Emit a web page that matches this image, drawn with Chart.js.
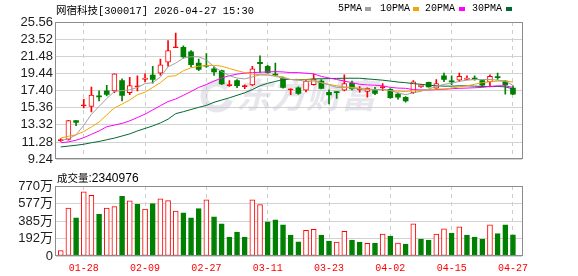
<!DOCTYPE html>
<html lang="zh">
<head>
<meta charset="UTF-8">
<title>网宿科技 K线</title>
<script src="https://cdn.jsdelivr.net/npm/chart.js"></script>
<style>
  body { margin: 0; background: #fff; }
  #wrap { position: relative; width: 578px; height: 276px; overflow: hidden; }
  canvas { position: absolute; left: 0; }
  .txt { position: absolute; white-space: nowrap; color: #000; z-index: 2; }
  .cjk { font-family: "Noto Sans CJK SC", sans-serif; }
  .mono { font-family: "Liberation Mono", monospace; }
  .sw { position: absolute; width: 6px; height: 4px; top: 7px; z-index: 2; }
</style>
</head>
<body>
<div id="wrap">
  <div class="txt" style="left:56px;top:0;line-height:17px;"><span class="cjk" style="font-size:10.5px">网宿科技</span><span class="mono" style="font-size:10.4px">[300017] 2026-04-27 15:30</span></div>
  <div class="txt mono" style="left:338px;top:0;line-height:17px;font-size:10px">5PMA</div>
  <div class="sw" style="left:365px;background:#a0a0a0"></div>
  <div class="txt mono" style="left:380px;top:0;line-height:17px;font-size:10px">10PMA</div>
  <div class="sw" style="left:413px;background:#f2a600"></div>
  <div class="txt mono" style="left:425px;top:0;line-height:17px;font-size:10px">20PMA</div>
  <div class="sw" style="left:459px;background:#ff00ff"></div>
  <div class="txt mono" style="left:472px;top:0;line-height:17px;font-size:10px">30PMA</div>
  <div class="sw" style="left:506px;background:#006a32"></div>
  <div class="txt" style="left:57px;top:170px;line-height:14px;"><span class="cjk" style="font-size:10.5px">成交量</span><span style="font-family:'Liberation Sans';font-size:12px">:2340976</span></div>
  <canvas id="kline" width="578" height="170" style="top:0"></canvas>
  <canvas id="vol" width="578" height="106" style="top:170px"></canvas>
</div>

<script>
// 日K数据（60个交易日）
const open  = [11.45,11.58,13.83,15.60,15.52,16.72,17.37,17.37,18.60,17.14,
               17.85,18.72,19.24,19.47,20.78,22.50,22.55,22.02,20.67,20.37,
               19.99,19.77,18.00,18.60,17.88,18.08,20.75,20.30,19.36,18.90,
               17.50,17.74,17.44,18.12,18.53,17.18,17.20,17.44,18.27,17.52,
               17.29,17.40,17.76,17.55,16.99,16.61,17.14,17.85,18.38,17.70,
               19.17,18.57,18.64,18.72,18.83,18.60,18.42,19.02,18.53,17.70];
const high  = [11.70,13.85,13.83,16.35,17.82,17.37,18.04,19.40,18.79,18.98,
               19.17,19.39,20.29,21.16,23.34,24.24,22.74,22.17,21.16,21.80,
               20.22,19.85,18.60,18.72,18.08,20.30,21.54,20.41,20.67,19.02,
               17.60,17.85,18.68,19.36,18.72,17.48,17.29,19.28,18.53,17.89,
               17.74,17.78,18.23,17.63,17.10,16.69,18.60,18.12,18.42,18.72,
               19.47,19.17,19.47,19.17,19.17,18.68,19.28,19.47,18.60,17.97];
const low   = [11.35,11.50,13.23,15.34,14.85,16.16,16.76,17.14,16.16,16.91,
               17.37,18.42,18.27,19.24,20.30,22.50,21.27,20.22,19.77,20.15,
               19.21,18.12,17.89,17.74,17.63,18.00,19.54,19.47,19.17,17.70,
               16.91,16.95,17.25,18.04,17.59,15.82,16.46,17.37,17.48,17.21,
               16.61,16.91,17.40,16.46,16.39,16.01,17.06,17.78,17.82,17.59,
               18.45,18.12,18.53,18.70,18.64,17.85,17.85,18.72,16.99,16.91];
const close = [11.52,13.83,13.61,15.66,16.88,16.65,16.95,19.39,16.84,18.00,
               17.95,18.90,18.72,20.48,22.17,22.58,21.42,20.48,19.92,20.30,
               19.62,18.19,18.06,18.00,17.93,19.99,20.60,19.54,19.24,17.78,
               17.56,17.06,18.49,18.76,17.67,16.88,17.16,18.23,17.59,17.56,
               17.67,17.06,17.82,16.55,16.63,16.16,18.45,18.08,17.85,18.23,
               18.72,18.42,19.09,18.90,18.76,18.04,19.09,18.94,18.08,16.99];
// 成交量（万手）
const vol   = [59.5,528,420,707,666,458,528,543,655,606,
               569,517,577,629,610,495,476,420,521,617,
               432,353,208,264,208,617,565,376,398,342,
               231,156,283,294,231,164,153,272,175,153,
               138,141,242,219,141,130,353,186,175,242,
               298,253,320,231,208,186,342,246,342,234.1];
// 均线
const ma5  = [11.50,11.65,12.14,13.27,14.58,15.52,16.46,17.29,17.40,17.48,
              17.78,18.23,18.34,19.02,20.22,20.67,21.27,21.42,21.42,21.05,
              20.22,19.66,19.17,18.90,18.79,19.02,19.28,19.28,19.09,18.87,
              18.72,18.64,18.49,18.53,18.34,18.08,17.78,17.78,17.70,17.59,
              17.52,17.52,17.55,17.40,17.14,16.91,17.14,17.33,17.59,17.89,
              18.15,18.27,18.49,18.64,18.72,18.72,18.72,18.64,18.53,18.04];
const ma10 = [11.77,11.96,12.14,12.52,13.08,13.65,14.51,15.34,15.79,16.28,
              16.91,17.21,17.78,18.34,19.09,19.17,19.77,20.11,20.30,20.37,
              20.41,20.30,20.03,19.77,19.54,19.36,19.28,19.24,19.17,19.02,
              18.72,18.68,18.68,18.64,18.34,18.15,17.97,17.85,17.78,17.67,
              17.59,17.52,17.52,17.40,17.33,17.29,17.37,17.40,17.48,17.59,
              17.59,17.70,17.85,17.97,18.15,18.34,18.45,18.53,18.53,18.42];
const ma20 = [11.20,11.30,11.50,11.80,12.20,12.60,13.10,13.30,13.50,13.80,
              14.20,14.60,15.10,15.60,16.10,16.40,16.84,17.29,17.78,18.12,
              18.53,18.90,19.17,19.36,19.47,19.54,19.58,19.62,19.66,19.62,
              19.54,19.54,19.47,19.39,19.09,18.90,18.72,18.53,18.34,18.15,
              18.08,18.04,17.97,17.78,17.70,17.67,17.52,17.48,17.48,17.52,
              17.55,17.63,17.67,17.70,17.74,17.78,17.89,17.97,17.97,17.78];
const ma30 = [10.70,10.80,10.90,11.02,11.20,11.35,11.55,11.75,12.00,12.25,
              12.60,12.90,13.20,13.55,14.00,14.66,14.89,15.15,15.41,15.64,
              16.01,16.28,16.54,16.84,17.14,17.52,17.97,18.27,18.49,18.72,
              18.72,18.72,18.72,18.79,18.81,18.83,18.85,18.87,18.87,18.87,
              18.79,18.72,18.64,18.53,18.42,18.34,18.23,18.15,18.04,17.97,
              17.93,17.93,17.97,17.97,17.93,17.89,17.89,17.89,17.85,17.59];
// 坐标轴
const tickIdx    = [3, 11, 19, 27, 35, 43, 51, 59];
const tickLabels = ['01-28','02-09','02-27','03-11','03-23','04-02','04-15','04-27'];
const priceTicks = [9.24, 11.28, 13.32, 15.36, 17.40, 19.44, 21.48, 23.52, 25.56];
const volTicks   = [0, 192.5, 385, 577.5, 770];

const RED = '#ff0000', GREEN = '#008000';
const axisFont = { family: "'Liberation Sans', 'Noto Sans CJK SC'", size: 13 };
const xMin = -0.62, xMax = 60.18;

const frame = {
  id: 'frame',
  afterDraw(chart) {
    const a = chart.chartArea, c = chart.ctx;
    c.save();
    c.strokeStyle = '#8c8c8c';
    c.lineWidth = 1;
    c.strokeRect(Math.round(a.left) - 0.5, Math.round(a.top) + 0.5,
                 Math.round(a.right - a.left) + 1, Math.round(a.bottom - a.top) - 1);
    c.restore();
  }
};

const watermark = {
  id: 'watermark',
  beforeDatasetsDraw(chart) {
    const c = chart.ctx;
    c.save();
    c.fillStyle = 'rgba(200,200,212,0.45)';
    c.strokeStyle = 'rgba(200,200,212,0.45)';
    c.lineWidth = 7;
    c.beginPath();
    c.arc(217, 96, 13, 0.3, Math.PI * 1.8);
    c.stroke();
    c.font = "italic bold 35px 'Noto Sans CJK SC'";
    c.textBaseline = 'middle';
    c.fillText('东方财富', 236, 95);
    c.restore();
  }
};

const xy = arr => arr.map((v, i) => ({ x: i, y: v }));
const maLine = (label, arr, color) => ({
  type: 'line', label, data: xy(arr), borderColor: color, borderWidth: 1,
  pointRadius: 0, tension: 0, order: 1
});

const xAxis = (showLabels) => ({
  type: 'linear', min: xMin, max: xMax, offset: false,
  afterBuildTicks: s => { s.ticks = tickIdx.map(v => ({ value: v })); },
  afterFit: s => { s.height = showLabels ? 20 : 0; },
  ticks: showLabels ? {
    callback: (v, idx) => tickLabels[idx],
    color: RED, font: { family: "'Liberation Mono'", size: 10 },
    padding: 6, maxRotation: 0, autoSkip: false
  } : { display: false },
  grid: { color: '#cdcdcd', drawTicks: false, offset: false },
  border: { display: false, dash: [4, 4] }
});

new Chart(document.getElementById('kline'), {
  type: 'bar',
  data: {
    datasets: [
      maLine('MA5', ma5, '#a0a0a0'),
      maLine('MA10', ma10, '#f2a600'),
      maLine('MA20', ma20, '#ff00ff'),
      maLine('MA30', ma30, '#006a32'),
      {
        label: 'body',
        data: open.map((o, i) => ({ x: i, y: [o, close[i]] })),
        backgroundColor: ctx => {
          const i = ctx.dataIndex;
          if (close[i] >= open[i]) return (close[i] - open[i] < 0.12) ? RED : '#fff';
          return GREEN;
        },
        borderColor: ctx => close[ctx.dataIndex] >= open[ctx.dataIndex] ? RED : GREEN,
        borderWidth: ctx => close[ctx.dataIndex] >= open[ctx.dataIndex] ? 1 : 0,
        borderSkipped: false,
        barThickness: 5,
        minBarLength: 1,
        grouped: false,
        order: 2
      },
      {
        label: 'wick',
        data: low.map((l, i) => ({ x: i, y: [l, high[i]] })),
        backgroundColor: ctx => close[ctx.dataIndex] >= open[ctx.dataIndex] ? RED : GREEN,
        barThickness: 1,
        grouped: false,
        order: 3
      }
    ]
  },
  options: {
    responsive: false,
    animation: false,
    events: [],
    layout: { padding: { top: 22, right: 56, bottom: 5, left: 0 } },
    plugins: { legend: { display: false }, tooltip: { enabled: false } },
    scales: {
      x: xAxis(false),
      y: {
        min: 9.24, max: 25.56,
        afterBuildTicks: s => { s.ticks = priceTicks.map(v => ({ value: v })); },
        afterFit: s => { s.width = 56; },
        ticks: { callback: v => v.toFixed(2), font: axisFont, color: '#1c1c1c', padding: 3, autoSkip: false },
        grid: { color: '#d2d2d2', drawTicks: false },
        border: { display: false }
      }
    }
  },
  plugins: [watermark, frame]
});

new Chart(document.getElementById('vol'), {
  type: 'bar',
  data: {
    datasets: [{
      label: 'vol',
      data: vol.map((v, i) => ({ x: i, y: v })),
      backgroundColor: ctx => {
        const i = ctx.dataIndex;
        return (i === 0 || close[i] >= close[i - 1]) ? '#fff' : GREEN;
      },
      borderColor: ctx => {
        const i = ctx.dataIndex;
        return (i === 0 || close[i] >= close[i - 1]) ? RED : GREEN;
      },
      borderWidth: 1,
      borderSkipped: false,
      barThickness: 5,
      grouped: false
    }]
  },
  options: {
    responsive: false,
    animation: false,
    events: [],
    layout: { padding: { top: 16, right: 56, bottom: 0, left: 0 } },
    plugins: { legend: { display: false }, tooltip: { enabled: false } },
    scales: {
      x: xAxis(true),
      y: {
        min: 0, max: 770,
        afterBuildTicks: s => { s.ticks = volTicks.map(v => ({ value: v })); },
        afterFit: s => { s.width = 56; },
        ticks: { callback: v => v === 0 ? '0' : Math.floor(v) + '万', font: axisFont, color: '#1c1c1c', padding: 3, autoSkip: false },
        grid: { color: '#d2d2d2', drawTicks: false },
        border: { display: false }
      }
    }
  },
  plugins: [frame]
});
</script>
</body>
</html>
